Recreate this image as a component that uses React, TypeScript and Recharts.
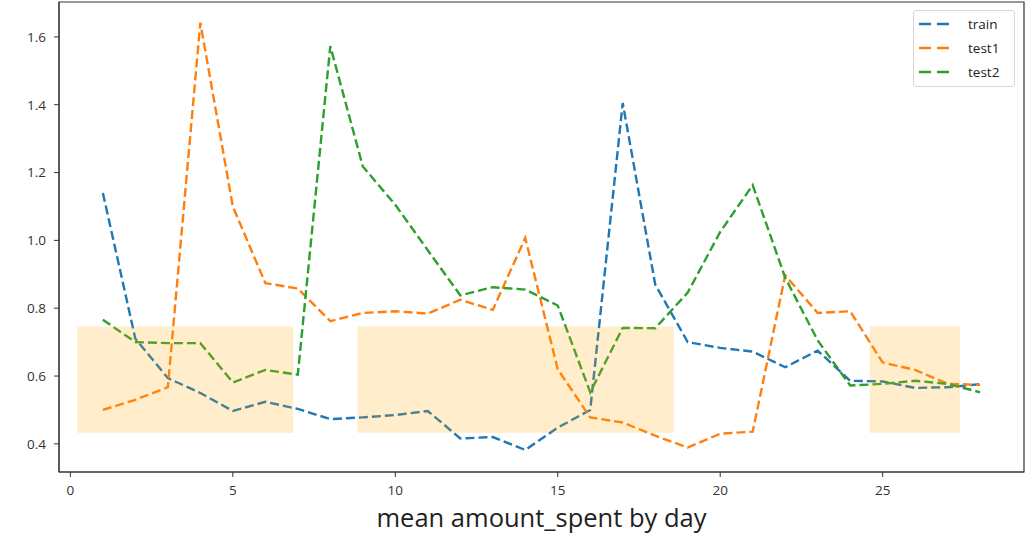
import React from 'react';
import {
  LineChart,
  Line,
  XAxis,
  YAxis,
  ReferenceArea,
} from 'recharts';

// day index on x
const days = [
  1, 2, 3, 4, 5, 6, 7, 8, 9, 10, 11, 12, 13, 14,
  15, 16, 17, 18, 19, 20, 21, 22, 23, 24, 25, 26, 27, 28,
];

// mean amount_spent per day
const train = [
  1.14, 0.71, 0.594, 0.55, 0.497, 0.524, 0.503, 0.473, 0.478, 0.485, 0.497, 0.416, 0.42, 0.382,
  0.448, 0.5, 1.405, 0.87, 0.70, 0.683, 0.672, 0.626, 0.675, 0.586, 0.584, 0.565, 0.567, 0.576,
];
const test1 = [
  0.50, 0.53, 0.567, 1.642, 1.10, 0.874, 0.858, 0.762, 0.786, 0.791, 0.784, 0.825, 0.795, 1.007,
  0.62, 0.478, 0.463, 0.424, 0.389, 0.43, 0.436, 0.897, 0.786, 0.791, 0.64, 0.618, 0.577, 0.574,
];
const test2 = [
  0.766, 0.70, 0.697, 0.697, 0.581, 0.618, 0.604, 1.573, 1.218, 1.105, 0.971, 0.838, 0.862, 0.855,
  0.808, 0.552, 0.742, 0.741, 0.846, 1.025, 1.163, 0.89, 0.705, 0.572, 0.577, 0.586, 0.577, 0.552,
];

// shaded day ranges and their value band
const spanStarts = [0.21, 8.84, 24.6];
const spanEnds = [6.86, 18.57, 27.38];
const spanBand = [0.433, 0.746];

const xTicks = [0, 5, 10, 15, 20, 25];
const yTicks = [0.4, 0.6, 0.8, 1.0, 1.2, 1.4, 1.6];

const seriesNames = ['train', 'test1', 'test2'];
const seriesColors = ['#1f77b4', '#ff7f0e', '#2ca02c'];

const tableData = days.map((d, i) => ({
  day: d,
  train: train[i],
  test1: test1[i],
  test2: test2[i],
}));

const xDomain = [-0.35, 29.35];
const yDomain = [0.317, 1.703];

const axisColor = '#333';
const tickFont = { fontSize: 13.5, fill: '#333', fontFamily: '"Open Sans", sans-serif' };

const LegendBox = () => (
  <div
    style={{
      position: 'absolute',
      top: 10,
      left: 913,
      width: 102,
      boxSizing: 'border-box',
      border: '1px solid #d6d6d6',
      borderRadius: 3,
      background: 'rgba(255,255,255,0.8)',
      padding: '1px 0 2px 5px',
      fontFamily: '"Open Sans", sans-serif',
      fontSize: 13.5,
      color: '#222',
    }}
  >
    {seriesNames.map((name, i) => (
      <div key={name} style={{ display: 'flex', alignItems: 'center', height: 24 }}>
        <svg width={31} height={4} style={{ marginRight: 18 }}>
          <line x1={0} y1={2} x2={31} y2={2} stroke={seriesColors[i]} strokeWidth={2.4} strokeDasharray="12 6" />
        </svg>
        <span>{name}</span>
      </div>
    ))}
  </div>
);

export default function App() {
  return (
    <div style={{ position: 'absolute', left: 0, top: 0, width: 1033, height: 539, background: '#fff' }}>
      <LineChart
        width={1033}
        height={539}
        data={tableData}
        margin={{ top: 2, right: 9, bottom: 0, left: 0 }}
      >
        <XAxis
          dataKey="day"
          type="number"
          domain={xDomain}
          ticks={xTicks}
          allowDataOverflow
          height={67}
          tickSize={5}
          tickMargin={8}
          stroke={axisColor}
          tick={tickFont}
          label={{
            value: 'mean amount_spent by day',
            position: 'insideBottom',
            offset: 12,
            fontSize: 25.5,
            fill: '#222',
            fontFamily: '"Open Sans", sans-serif',
          }}
        />
        <YAxis
          type="number"
          domain={yDomain}
          ticks={yTicks}
          allowDataOverflow
          width={59}
          tickSize={5}
          tickMargin={8}
          stroke={axisColor}
          tick={tickFont}
          tickFormatter={(v: number) => v.toFixed(1)}
        />
        {seriesNames.map((name, i) => (
          <Line
            key={name}
            type="linear"
            dataKey={name}
            name={name}
            stroke={seriesColors[i]}
            strokeWidth={2.4}
            strokeDasharray="9 4"
            dot={false}
            activeDot={false}
            isAnimationActive={false}
          />
        ))}
        {spanStarts.map((s, i) => (
          <ReferenceArea
            key={i}
            x1={s}
            x2={spanEnds[i]}
            y1={spanBand[0]}
            y2={spanBand[1]}
            fill="orange"
            fillOpacity={0.2}
            stroke="none"
            zIndex={450}
          />
        ))}
        {/* frame (matplotlib spines) */}
        <ReferenceArea
          x1={xDomain[0]}
          x2={xDomain[1]}
          y1={yDomain[0]}
          y2={yDomain[1]}
          fill="none"
          stroke={axisColor}
          strokeWidth={1.2}
          zIndex={460}
        />
      </LineChart>
      <LegendBox />
    </div>
  );
}
